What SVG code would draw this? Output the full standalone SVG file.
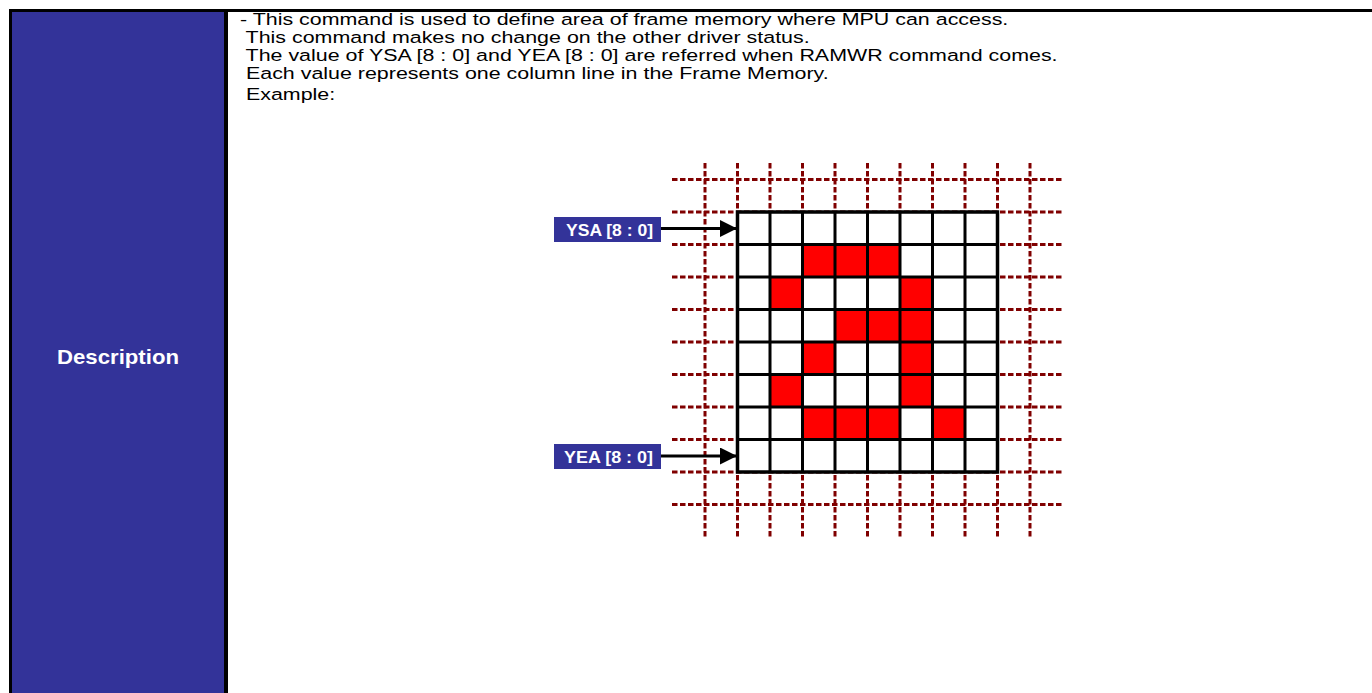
<svg xmlns="http://www.w3.org/2000/svg" width="1372" height="693" viewBox="0 0 1372 693">
<style>
.body{font-family:"Liberation Sans",Arial,sans-serif;font-size:17px;fill:#000;white-space:pre}
.lbl{font-family:"Liberation Sans",Arial,sans-serif;font-weight:bold;fill:#fff}
.dash{stroke:#800000;stroke-width:3;stroke-dasharray:5.5 2.5;fill:none}
.arr{stroke:#000;stroke-width:3;fill:none}
</style>
<defs>
<marker id="ah" markerWidth="18" markerHeight="18" refX="17" refY="8.5" orient="auto" markerUnits="userSpaceOnUse">
<path d="M0,0 L17,8.5 L0,17 Z" fill="#000"/>
</marker>
</defs>
<rect width="1372" height="693" fill="#fff"/>
<g id="frame">
<rect x="12" y="12" width="212" height="681" fill="#333399"/>
<rect x="9" y="9" width="1363" height="3" fill="#000"/>
<rect x="9" y="9" width="3" height="684" fill="#000"/>
<rect x="224" y="12" width="4" height="681" fill="#000"/>
</g>
<g id="header">
<text class="lbl" x="118" y="364" text-anchor="middle" font-size="21" textLength="122" lengthAdjust="spacingAndGlyphs">Description</text>
</g>
<g id="text" transform="translate(240,0) scale(1.26,1)">
<text class="body" x="0" y="25" xml:space="preserve">- This command is used to define area of frame memory where MPU can access.</text>
<text class="body" x="0" y="43" xml:space="preserve"> This command makes no change on the other driver status.</text>
<text class="body" x="0" y="61" xml:space="preserve"> The value of YSA [8 : 0] and YEA [8 : 0] are referred when RAMWR command comes.</text>
<text class="body" x="0" y="79" xml:space="preserve"> Each value represents one column line in the Frame Memory.</text>
<text class="body" x="0" y="100" xml:space="preserve"> Example:</text>
</g>
<g id="dashgrid">
<path class="dash" d="M705,163V537M737.5,163V537M770,163V537M802.5,163V537M835,163V537M867.5,163V537M900,163V537M932.5,163V537M965,163V537M997.5,163V537M1030,163V537"/>
<path class="dash" d="M672,179.5H1063M672,212H1063M672,244.5H1063M672,277H1063M672,309.5H1063M672,342H1063M672,374.5H1063M672,407H1063M672,439.5H1063M672,472H1063M672,504.5H1063"/>
</g>
<g id="memory">
<rect x="737.5" y="212" width="260" height="260" fill="#fff"/>
<g fill="#ff0000">
<rect x="802.5" y="244.5" width="97.5" height="32.5"/>
<rect x="770" y="277" width="32.5" height="32.5"/>
<rect x="900" y="277" width="32.5" height="32.5"/>
<rect x="835" y="309.5" width="97.5" height="32.5"/>
<rect x="802.5" y="342" width="32.5" height="32.5"/>
<rect x="900" y="342" width="32.5" height="32.5"/>
<rect x="770" y="374.5" width="32.5" height="32.5"/>
<rect x="900" y="374.5" width="32.5" height="32.5"/>
<rect x="802.5" y="407" width="97.5" height="32.5"/>
<rect x="932.5" y="407" width="32.5" height="32.5"/>
</g>
<path stroke="#000" stroke-width="3" fill="none" d="M770,212V472M802.5,212V472M835,212V472M867.5,212V472M900,212V472M932.5,212V472M965,212V472M737.5,244.5H997.5M737.5,277H997.5M737.5,309.5H997.5M737.5,342H997.5M737.5,374.5H997.5M737.5,407H997.5M737.5,439.5H997.5"/>
<rect x="737.5" y="212" width="260" height="260" fill="none" stroke="#000" stroke-width="3.5"/>
</g>
<g id="ysa">
<rect x="554" y="217" width="107" height="25" fill="#333399"/>
<text class="lbl" x="566" y="235.5" font-size="16" textLength="87" lengthAdjust="spacingAndGlyphs">YSA [8 : 0]</text>
</g>
<g id="yea">
<rect x="554" y="444" width="107" height="25" fill="#333399"/>
<text class="lbl" x="564" y="462.5" font-size="16" textLength="89" lengthAdjust="spacingAndGlyphs">YEA [8 : 0]</text>
</g>
<g id="connectors">
<line class="arr" x1="661" y1="228.5" x2="737" y2="228.5" marker-end="url(#ah)"/>
<line class="arr" x1="661" y1="456" x2="737" y2="456" marker-end="url(#ah)"/>
</g>
</svg>
